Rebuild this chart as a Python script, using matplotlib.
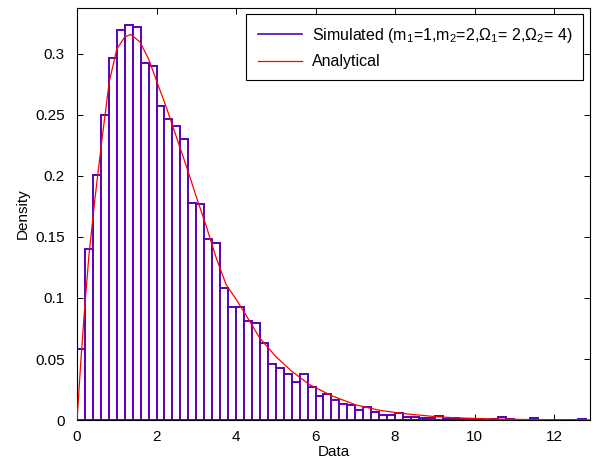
import numpy as np
import matplotlib
matplotlib.use("Agg")
import matplotlib.pyplot as plt
from matplotlib.lines import Line2D

plt.rcParams['font.family'] = ['Liberation Sans', 'DejaVu Sans']
plt.rcParams['mathtext.fontset'] = 'custom'
plt.rcParams['mathtext.rm'] = 'Liberation Sans'
plt.rcParams['mathtext.it'] = 'Liberation Sans'

# Histogram data (bin width 0.2 starting at 0)
bin_width = 0.2
density = [
    0.058, 0.140, 0.201, 0.250, 0.297, 0.320, 0.3235, 0.322, 0.293, 0.290,
    0.257, 0.2465, 0.241, 0.230, 0.178, 0.177, 0.148, 0.145, 0.108, 0.093,
    0.093, 0.081, 0.0795, 0.063, 0.046, 0.0426, 0.038, 0.031, 0.0374, 0.0267,
    0.020, 0.021, 0.0165, 0.0135, 0.0124, 0.0086, 0.0105, 0.0066, 0.0039, 0.0044,
    0.0055, 0.0025, 0.0022, 0.0020, 0.0018, 0.0034, 0.0012, 0.0015, 0.0012, 0.0008,
    0.0008, 0.0004, 0.0006, 0.0028, 0.0012, 0.0004, 0.0003, 0.0014, 0.0003, 0.0,
    0.0002, 0.0, 0.0002, 0.0006,
]

# Analytical curve
curve_x = [0, 0.1, 0.2, 0.3, 0.45, 0.62, 0.81, 1.0, 1.2, 1.35, 1.58, 1.8, 2.0,
           2.25, 2.5, 2.75, 3.0, 3.25, 3.5, 3.75, 4.0, 4.25, 4.6, 5.0, 5.4,
           5.85, 6.4, 7.0, 7.6, 8.2, 9.0, 9.5, 10.5, 11.5, 12.9]
curve_y = [0, 0.05, 0.095, 0.135, 0.181, 0.228, 0.277, 0.304, 0.314, 0.316,
           0.310, 0.296, 0.278, 0.256, 0.232, 0.208, 0.183, 0.159, 0.133, 0.111,
           0.099, 0.086, 0.067, 0.052, 0.040, 0.029, 0.020, 0.0125, 0.008,
           0.0053, 0.0028, 0.0018, 0.0008, 0.0003, 0.0001]

xticks = [0, 2, 4, 6, 8, 10, 12]
yticks = [0, 0.05, 0.1, 0.15, 0.2, 0.25, 0.3]
ytick_labels = ['0', '0.05', '0.1', '0.15', '0.2', '0.25', '0.3']

purple = '#5a00b8'
red = '#ff0000'

fig = plt.figure(figsize=(5.97, 4.62), dpi=100)
ax = fig.add_axes([0.129, 0.0909, 0.859, 0.8918])

lefts = np.arange(len(density)) * bin_width
ax.bar(lefts, density, width=bin_width, align='edge', facecolor='white',
       edgecolor=purple, linewidth=1.4, zorder=2)
ax.plot(curve_x, curve_y, color=red, linewidth=0.9, zorder=3)

ax.set_xlim(0, 12.9)
ax.set_ylim(0, 0.3377)
ax.set_xticks(xticks)
ax.set_xticklabels([str(t) for t in xticks])
ax.set_yticks(yticks)
ax.set_yticklabels(ytick_labels)
ax.tick_params(direction='in', top=True, right=True, labelsize=11,
               length=4, width=0.7)
ax.tick_params(axis='x', pad=7)
ax.tick_params(axis='y', pad=9)
for s in ax.spines.values():
    s.set_linewidth(0.8)
ax.set_xlabel('Data', fontsize=11, labelpad=1)
ax.set_ylabel('Density', fontsize=11, labelpad=4)

handles = [Line2D([], [], color=purple, lw=1.2),
           Line2D([], [], color=red, lw=0.9)]
labels = [r'Simulated (m$_1$=1,m$_2$=2,$\Omega_1$= 2,$\Omega_2$= 4)', 'Analytical']
leg = ax.legend(handles, labels, loc='upper right', fontsize=11.5,
                fancybox=False, framealpha=1, edgecolor='black',
                borderaxespad=0.4, handlelength=2.8, handletextpad=0.6,
                labelspacing=0.6, borderpad=0.7)
leg.get_frame().set_linewidth(0.8)

fig.savefig('out.png', dpi=100)
